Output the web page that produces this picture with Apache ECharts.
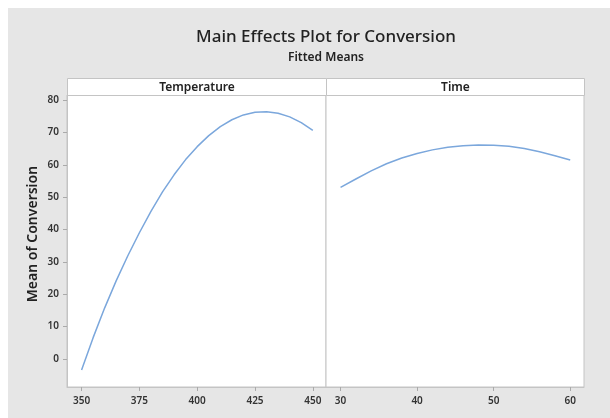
<!DOCTYPE html>
<html>
<head>
<meta charset="utf-8">
<script src="https://cdn.jsdelivr.net/npm/echarts@6/dist/echarts.min.js"></script>
<style>
  html, body { margin: 0; padding: 0; background: #fff; }
  #chart { width: 610px; height: 418px; }
</style>
</head>
<body>
<div id="chart"></div>
<script>
// fitted means
var tempLevels = [350, 355, 360, 365, 370, 375, 380, 385, 390, 395, 400, 405, 410, 415, 420, 425, 430, 435, 440, 445, 450]
var tempMeans = [-3.4, 6.6, 15.8, 24.2, 31.9, 39.0, 45.6, 51.6, 56.9, 61.6, 65.6, 69.0, 71.8, 73.9, 75.4, 76.2, 76.4, 75.9, 74.8, 73.0, 70.6]
var timeLevels = [30, 32, 34, 36, 38, 40, 42, 44, 46, 48, 50, 52, 54, 56, 58, 60]
var timeMeans = [53.0, 55.6, 58.1, 60.3, 62.1, 63.5, 64.6, 65.4, 65.9, 66.1, 66.0, 65.7, 65.0, 64.0, 62.8, 61.5]

var tempTicks = [350, 375, 400, 425, 450]
var timeTicks = [30, 40, 50, 60]
var meanTicks = [0, 10, 20, 30, 40, 50, 60, 70, 80]

var FONT = 'Noto Sans'
var lineColor = '#7ba7dc'
var frameColor = '#c4c4c4'

function pairs (xs, ys) {
  var out = []
  for (var i = 0; i < xs.length; i++) out.push([xs[i], ys[i]])
  return out
}

var labelStyle = { color: '#333', fontFamily: FONT, fontSize: 10, fontWeight: 600 }

function xAxisFor (idx, min, max, ticks) {
  return {
    type: 'value', gridIndex: idx, min: min, max: max,
    axisLine: { show: true, onZero: false, lineStyle: { color: frameColor } },
    axisTick: { show: true, length: 4, customValues: ticks, lineStyle: { color: '#aaa' } },
    axisLabel: Object.assign({ margin: 9, customValues: ticks }, labelStyle),
    splitLine: { show: false }
  }
}

function yAxisFor (idx, show) {
  return {
    type: 'value', gridIndex: idx, min: -8.65, max: 81.55,
    axisLine: { show: show, lineStyle: { color: frameColor } },
    axisTick: { show: show, length: 4, customValues: meanTicks, lineStyle: { color: '#aaa' } },
    axisLabel: Object.assign({ show: show, margin: 8, customValues: meanTicks }, labelStyle),
    splitLine: { show: false }
  }
}

function header (x, w, text) {
  return {
    type: 'group', left: x, top: 78,
    children: [
      { type: 'rect', shape: { x: 0, y: 0, width: w, height: 17 },
        style: { fill: '#fff', stroke: frameColor, lineWidth: 1 } },
      { type: 'text', x: w / 2, y: 9,
        style: { text: text, fill: '#222', font: '600 12px "' + FONT + '"', align: 'center', verticalAlign: 'middle' } }
    ]
  }
}

var chart = echarts.init(document.getElementById('chart'), null, { renderer: 'canvas' })

chart.setOption({
  backgroundColor: '#e6e6e6',
  animation: false,
  graphic: [
    // white margin on the top and left of the gray panel
    { type: 'rect', left: 0, top: 0, shape: { width: 610, height: 8 }, style: { fill: '#fff' } },
    { type: 'rect', left: 0, top: 0, shape: { width: 8, height: 418 }, style: { fill: '#fff' } },
    // titles are centred over the panels, not the page
    { type: 'text', x: 326, y: 37,
      style: { text: 'Main Effects Plot for Conversion', fill: '#222', font: '500 17px "' + FONT + '"', align: 'center', verticalAlign: 'middle' } },
    { type: 'text', x: 326, y: 58,
      style: { text: 'Fitted Means', fill: '#222', font: '600 12px "' + FONT + '"', align: 'center', verticalAlign: 'middle' } },
    { type: 'text', x: 33, y: 234, rotation: Math.PI / 2,
      style: { text: 'Mean of Conversion', fill: '#222', font: '600 14px "' + FONT + '"', align: 'center', verticalAlign: 'middle' } },
    header(67, 259, 'Temperature'),
    header(326, 258, 'Time')
  ],
  grid: [
    { left: 67, top: 95, width: 259, height: 292, show: true, backgroundColor: '#fff', borderColor: frameColor, borderWidth: 1 },
    { left: 326, top: 95, width: 258, height: 292, show: true, backgroundColor: '#fff', borderColor: frameColor, borderWidth: 1 }
  ],
  xAxis: [
    xAxisFor(0, 343.7, 455.7, tempTicks),
    xAxisFor(1, 28.1, 61.8, timeTicks)
  ],
  yAxis: [
    yAxisFor(0, true),
    yAxisFor(1, false)
  ],
  series: [
    { type: 'line', name: 'Temperature', xAxisIndex: 0, yAxisIndex: 0, data: pairs(tempLevels, tempMeans),
      showSymbol: false, lineStyle: { color: lineColor, width: 1.5 } },
    { type: 'line', name: 'Time', xAxisIndex: 1, yAxisIndex: 1, data: pairs(timeLevels, timeMeans),
      showSymbol: false, lineStyle: { color: lineColor, width: 1.5 } }
  ]
})
</script>
</body>
</html>
